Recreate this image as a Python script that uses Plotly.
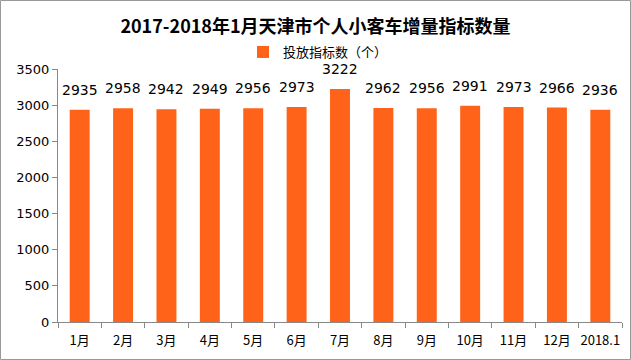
import plotly.graph_objects as go

categories = ["1月", "2月", "3月", "4月", "5月", "6月", "7月", "8月", "9月", "10月", "11月", "12月", "2018.1"]
values = [2935, 2958, 2942, 2949, 2956, 2973, 3222, 2962, 2956, 2991, 2973, 2966, 2936]
series_name = "投放指标数（个）"
title = "2017-2018年1月天津市个人小客车增量指标数量"

W, H = 631, 360
ml, mr, mt, mb = 58, 9, 69, 38
pw, ph = W - ml - mr, H - mt - mb

font_fam = "Noto Sans CJK SC, DejaVu Sans, sans-serif"

fig = go.Figure()
fig.add_trace(go.Bar(
    x=categories, y=values, name=series_name,
    marker=dict(color="#FF6319", line=dict(width=0)),
    cliponaxis=False, width=0.46, hoverinfo="x+y",
))

for i, v in enumerate(values):
    fig.add_annotation(x=i, y=v, xref="x", yref="y", text=str(v), showarrow=False,
                       yanchor="middle", yshift=20,
                       font=dict(size=14, color="#000000", family="DejaVu Sans, sans-serif"))

fig.update_layout(
    width=W, height=H,
    margin=dict(l=ml, r=mr, t=mt, b=mb, autoexpand=False),
    paper_bgcolor="white", plot_bgcolor="white",
    font=dict(family=font_fam, color="#000000"),
    title=dict(text="<b>" + title + "</b>", x=0.5, xanchor="center", y=1 - 27 / H, yanchor="middle",
               font=dict(size=18, color="#000000", family=font_fam)),
    showlegend=True,
    legend=dict(orientation="h", x=(318 - ml) / pw, xanchor="center", y=1 + (69 - 52) / ph, yanchor="middle",
                font=dict(size=13, color="#000000"), itemwidth=30, bgcolor="rgba(0,0,0,0)"),
    bargap=0.54,
    xaxis=dict(type="category", range=[-0.5, len(categories) - 0.5],
               showline=True, linecolor="#888888", linewidth=1, ticks="outside", tickson="boundaries",
               ticklen=5, tickcolor="#888888", tickfont=dict(size=13, color="#000000"), tickangle=0,
               ticklabelstandoff=6, automargin=False, showgrid=False, fixedrange=True),
    yaxis=dict(range=[0, 3500], dtick=500, showline=True, linecolor="#888888", linewidth=1,
               ticks="outside", ticklen=5, tickcolor="#888888", showgrid=False, automargin=False,
               tickfont=dict(size=13, color="#000000", family="DejaVu Sans, sans-serif"), zeroline=False),
)

fig.add_shape(type="rect", xref="paper", yref="paper",
              x0=(-ml + 0.5) / pw, x1=(W - ml - 0.5) / pw,
              y0=(-mb + 0.5) / ph, y1=(H - mb - 0.5) / ph,
              line=dict(color="#999999", width=1), fillcolor="rgba(0,0,0,0)", layer="below")

fig.write_html("out.html", config={"displayModeBar": False},
               post_script="document.body.style.margin='0';document.body.style.overflow='hidden';")
